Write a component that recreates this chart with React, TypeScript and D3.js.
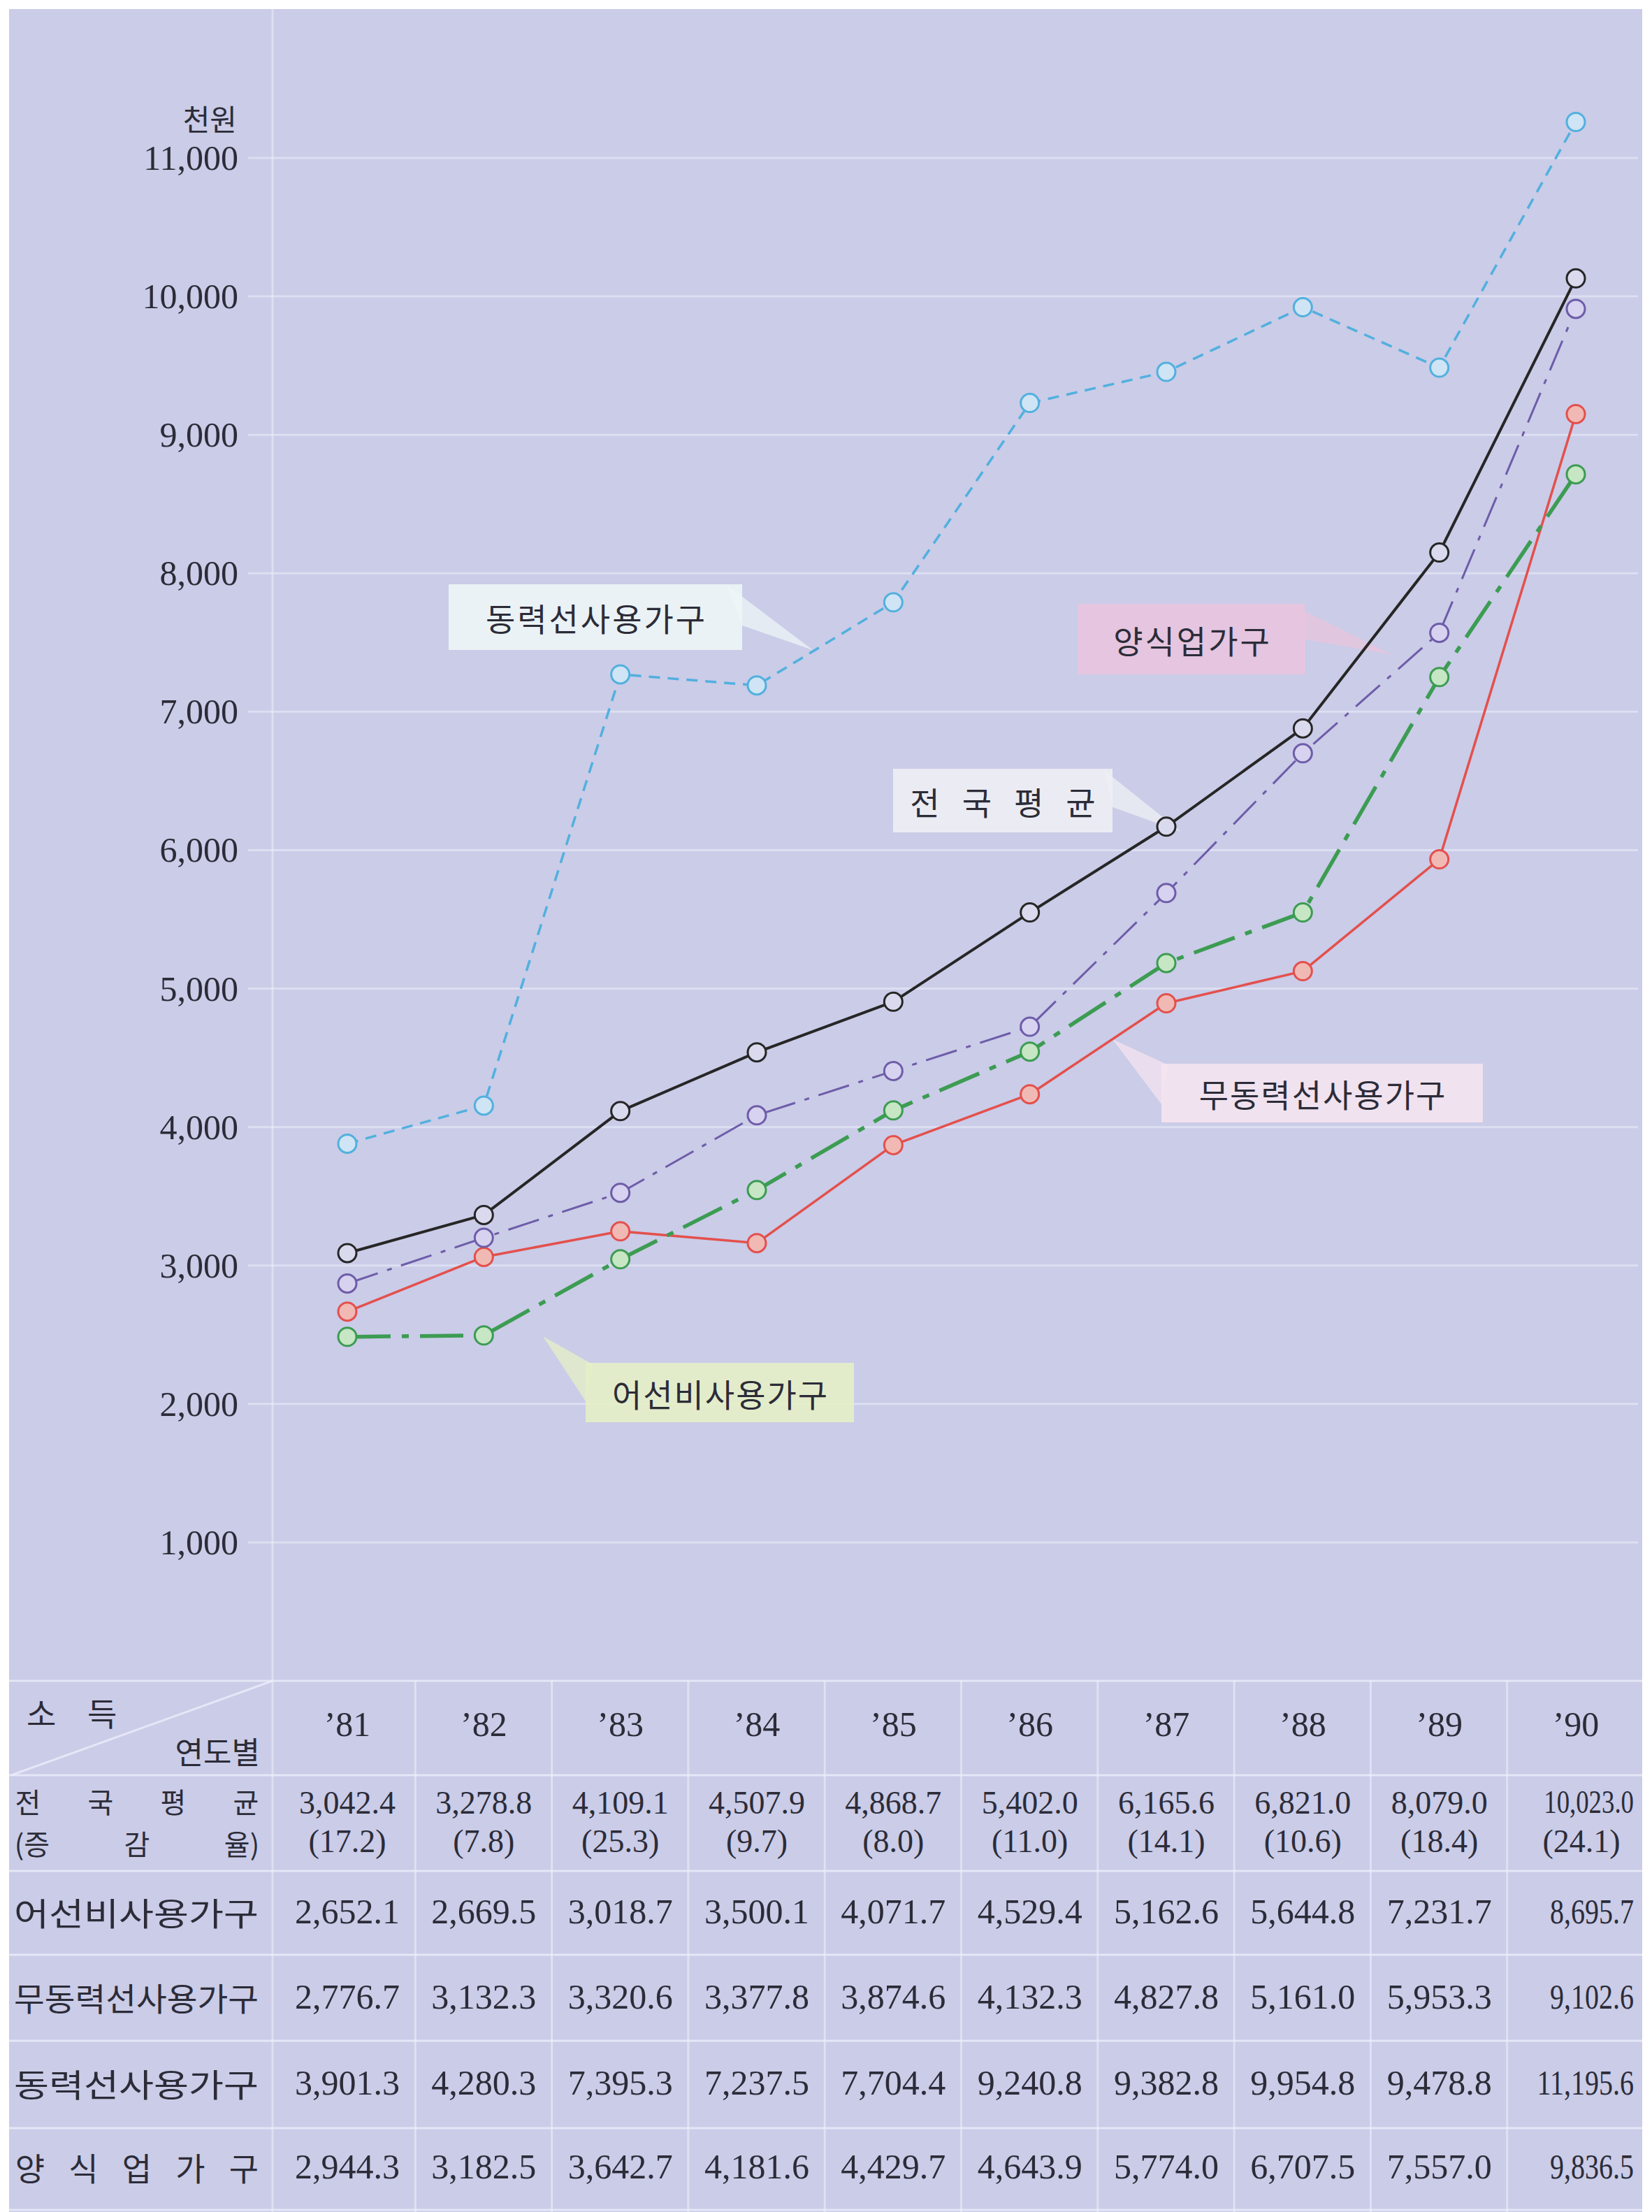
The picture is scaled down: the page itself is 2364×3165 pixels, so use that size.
import React from "react";
import * as d3 from "d3";

const W = 2364;
const H = 3165;

// ---------- data ----------
const years = ["’81", "’82", "’83", "’84", "’85", "’86", "’87", "’88", "’89", "’90"];
const yTicks = [1000, 2000, 3000, 4000, 5000, 6000, 7000, 8000, 9000, 10000, 11000];

// values as plotted on the chart (천원)
const avgPlotted = [3090, 3365, 4115, 4540, 4905, 5550, 6170, 6880, 8150, 10130];
const aquaPlotted = [2870, 3200, 3525, 4085, 4405, 4725, 5690, 6700, 7570, 9910];
const noVesselPlotted = [2485, 2495, 3045, 3545, 4120, 4545, 5185, 5550, 7250, 8715];
const nonPoweredPlotted = [2667, 3062, 3247, 3162, 3870, 4237, 4894, 5126, 5934, 9150];
const poweredPlotted = [3880, 4155, 7270, 7190, 7790, 9230, 9455, 9922, 9485, 11260];

// values in the table
const avgTable = [3042.4, 3278.8, 4109.1, 4507.9, 4868.7, 5402.0, 6165.6, 6821.0, 8079.0, 10023.0];
const avgGrowth = [17.2, 7.8, 25.3, 9.7, 8.0, 11.0, 14.1, 10.6, 18.4, 24.1];
const noVesselTable = [2652.1, 2669.5, 3018.7, 3500.1, 4071.7, 4529.4, 5162.6, 5644.8, 7231.7, 8695.7];
const nonPoweredTable = [2776.7, 3132.3, 3320.6, 3377.8, 3874.6, 4132.3, 4827.8, 5161.0, 5953.3, 9102.6];
const poweredTable = [3901.3, 4280.3, 7395.3, 7237.5, 7704.4, 9240.8, 9382.8, 9954.8, 9478.8, 11195.6];
const aquaTable = [2944.3, 3182.5, 3642.7, 4181.6, 4429.7, 4643.9, 5774.0, 6707.5, 7557.0, 9836.5];

const seriesNames = ["전국평균", "어선비사용가구", "무동력선사용가구", "동력선사용가구", "양식업가구"];

// ---------- style ----------
const BG = "#cacce8";
const GRID = "#eef0fb";
const SERIF = "'Liberation Serif', 'DejaVu Serif', serif";
const KR = "'Noto Sans CJK KR', 'Noto Sans', sans-serif";
const TXT = "#2c2c38";

const fmt = d3.format(",.1f");
const fmtTick = d3.format(",");

function estWidth(t: string, fs: number) {
  let w = 0;
  for (const ch of t) {
    if (/[\uac00-\ud7a3]/.test(ch)) w += fs;
    else if (/[0-9]/.test(ch)) w += fs * 0.5;
    else w += fs * 0.3;
  }
  return w;
}

function Spread({ tokens, x0, x1, y, fs }: { tokens: string[]; x0: number; x1: number; y: number; fs: number }) {
  const n = tokens.length;
  const w0 = estWidth(tokens[0], fs) / 2;
  const wn = estWidth(tokens[n - 1], fs) / 2;
  const c0 = x0 + w0;
  const c1 = x1 - wn;
  return (
    <g>
      {tokens.map((t, i) => (
        <text key={i} x={c0 + ((c1 - c0) * i) / (n - 1)} y={y} textAnchor="middle" dominantBaseline="central"
          fontFamily={KR} fontSize={fs} fill={TXT}>{t}</text>
      ))}
    </g>
  );
}

export default function App() {
  const x = d3.scalePoint<string>().domain(years).range([497, 2255]);
  const y = d3.scaleLinear().domain([0, 11000]).range([2405, 226]);
  const band = d3.scaleBand<string>().domain(years).range([399, 2352]).padding(0);

  const series = [
    { name: seriesNames[3], values: poweredPlotted, color: "#52b0de", width: 3.5, dash: "16 11", fill: "#cfe4f4" },
    { name: seriesNames[2], values: nonPoweredPlotted, color: "#e4504c", width: 3.5, dash: "", fill: "#f0b9b4" },
    { name: seriesNames[1], values: noVesselPlotted, color: "#3c9c52", width: 5.5, dash: "62 16 10 16", fill: "#c6e6c4" },
    { name: seriesNames[4], values: aquaPlotted, color: "#6e5ca8", width: 3, dash: "46 14 7 14", fill: "#d6d2f0" },
    { name: seriesNames[0], values: avgPlotted, color: "#262626", width: 4, dash: "", fill: "#d9daee" },
  ];

  const line = d3.line<number>().x((_, i) => x(years[i]) as number).y((d) => y(d));

  const panel = { x0: 13, y0: 13, x1: 2350, y1: H };
  const gridX0 = 355;
  const vLineX = 390;

  const tableTop = y(0);
  const rowEdges = [tableTop, 2540, 2677, 2797, 2920, 3045, 3162];

  const callouts = [
    { text: "동력선사용가구", box: [642, 836, 1062, 930], fill: "#eef6f6", tail: [[1040, 837], [1062, 895], [1163, 930]], ls: 3 },
    { text: "양식업가구", box: [1542, 864, 1868, 965], fill: "#e8c4de", tail: [[1850, 866], [1868, 915], [1993, 937]], ls: 3 },
    { text: "전국평균", box: [1278, 1100, 1592, 1191], fill: "#eef0f4", tail: [[1580, 1102], [1592, 1155], [1690, 1190]], ls: 32 },
    { text: "무동력선사용가구", box: [1662, 1522, 2122, 1606], fill: "#f4e4f0", tail: [[1672, 1524], [1662, 1580], [1592, 1487]], ls: 2 },
    { text: "어선비사용가구", box: [838, 1950, 1222, 2035], fill: "#e6f0c6", tail: [[848, 1952], [838, 2005], [777, 1912]], ls: 2 },
  ];

  const tableRows = [
    { label: null, values: avgTable, y: 2579 },
    { label: "어선비사용가구", values: noVesselTable, y: 2735 },
    { label: "무동력선사용가구", values: nonPoweredTable, y: 2857 },
    { label: "동력선사용가구", values: poweredTable, y: 2980 },
    { label: null, values: aquaTable, y: 3100 },
  ];

  const valFs = 50;
  const lastYear = years[years.length - 1];

  const valueText = (v: number, i: number, yy: number, key: string, fs: number) => {
    const s = fmt(v);
    if (years[i] === lastYear) {
      return (
        <text key={key} transform={`translate(2338,${yy}) scale(0.8,1)`} x={0} y={0} textAnchor="end" dominantBaseline="central"
          fontFamily={SERIF} fontSize={fs} fill={TXT}>{s}</text>
      );
    }
    return (
      <text key={key} x={x(years[i]) as number} y={yy} textAnchor="middle" dominantBaseline="central"
        fontFamily={SERIF} fontSize={fs} fill={TXT}>{s}</text>
    );
  };

  return (
    <svg width={W} height={H} viewBox={`0 0 ${W} ${H}`} style={{ position: "absolute", left: 0, top: 0, background: "#ffffff" }}>
      <rect x={0} y={0} width={W} height={H} fill="#ffffff" />
      <rect x={panel.x0} y={panel.y0} width={panel.x1 - panel.x0} height={panel.y1 - panel.y0} fill={BG} />

      {/* grid */}
      {yTicks.map((t) => (
        <line key={t} x1={gridX0} x2={panel.x1 - 6} y1={y(t)} y2={y(t)} stroke={GRID} strokeWidth={3} opacity={0.55} />
      ))}
      <line x1={vLineX} x2={vLineX} y1={panel.y0} y2={H} stroke={GRID} strokeWidth={3} opacity={0.55} />

      {/* y axis labels */}
      {yTicks.map((t) => (
        <text key={t} x={341} y={y(t)} textAnchor="end" dominantBaseline="central" fontFamily={SERIF} fontSize={50} fill={TXT}>
          {fmtTick(t)}
        </text>
      ))}
      <text x={339} y={168} textAnchor="end" dominantBaseline="central" fontFamily={KR} fontSize={42} fill={TXT}>천원</text>

      {/* callouts */}
      {callouts.map((c, i) => (
        <g key={i}>
          <polygon points={c.tail.map((p) => p.join(",")).join(" ")} fill={c.fill} opacity={0.75} />
          <rect x={c.box[0]} y={c.box[1]} width={c.box[2] - c.box[0]} height={c.box[3] - c.box[1]} fill={c.fill} opacity={0.9} />
          <text x={(c.box[0] + c.box[2]) / 2 + c.ls / 2} y={(c.box[1] + c.box[3]) / 2} textAnchor="middle" dominantBaseline="central"
            fontFamily={KR} fontSize={46} fill={TXT} letterSpacing={c.ls}>{c.text}</text>
        </g>
      ))}

      {/* lines */}
      {series.map((s) => (
        <path key={s.name} d={line(s.values) as string} fill="none" stroke={s.color} strokeWidth={s.width}
          strokeDasharray={s.dash || undefined} strokeLinejoin="round" />
      ))}
      {series.map((s) => (
        <g key={s.name + "-m"}>
          {s.values.map((v, i) => (
            <circle key={i} cx={x(years[i]) as number} cy={y(v)} r={13} fill={s.fill} stroke={s.color} strokeWidth={3} />
          ))}
        </g>
      ))}

      {/* table grid */}
      {rowEdges.map((ry, i) => (
        <line key={"r" + i} x1={panel.x0} x2={panel.x1} y1={ry} y2={ry} stroke={GRID} strokeWidth={3} opacity={0.75} />
      ))}
      {years.slice(1).map((yr) => (
        <line key={"c" + yr} x1={band(yr) as number} x2={band(yr) as number} y1={tableTop} y2={H} stroke={GRID} strokeWidth={3} opacity={0.6} />
      ))}
      <line x1={16} y1={rowEdges[1]} x2={vLineX} y2={tableTop} stroke={GRID} strokeWidth={3} opacity={0.75} />

      {/* header */}
      <text x={38} y={2449} dominantBaseline="central" fontFamily={KR} fontSize={46} fill={TXT}>소</text>
      <text x={125} y={2449} dominantBaseline="central" fontFamily={KR} fontSize={46} fill={TXT}>득</text>
      <text x={372} y={2505} textAnchor="end" dominantBaseline="central" fontFamily={KR} fontSize={44} fill={TXT}>연도별</text>
      {years.map((yr) => (
        <text key={yr} x={x(yr) as number} y={2467} textAnchor="middle" dominantBaseline="central" fontFamily={SERIF} fontSize={50} fill={TXT}>
          {yr}
        </text>
      ))}

      {/* row labels */}
      <Spread tokens={["전", "국", "평", "균"]} x0={20} x1={372} y={2577} fs={40} />
      <Spread tokens={["(증", "감", "율)"]} x0={20} x1={372} y={2637} fs={40} />
      {tableRows.filter((r) => r.label).map((r) => (
        <text key={r.label as string} x={20} y={r.y} dominantBaseline="central" fontFamily={KR} fontSize={46} fill={TXT}
          textLength={350} lengthAdjust="spacingAndGlyphs">{r.label}</text>
      ))}
      <Spread tokens={["양", "식", "업", "가", "구"]} x0={20} x1={372} y={3100} fs={46} />

      {/* values */}
      {tableRows.map((r, ri) => r.values.map((v, i) => valueText(v, i, r.y, `v${ri}-${i}`, ri === 0 ? 46 : valFs)))}
      {avgGrowth.map((g, i) => (
        <text key={"g" + i} x={(x(years[i]) as number) + (years[i] === lastYear ? 8 : 0)} y={2634} textAnchor="middle"
          dominantBaseline="central" fontFamily={SERIF} fontSize={46} fill={TXT}>({g.toFixed(1)})</text>
      ))}
    </svg>
  );
}
